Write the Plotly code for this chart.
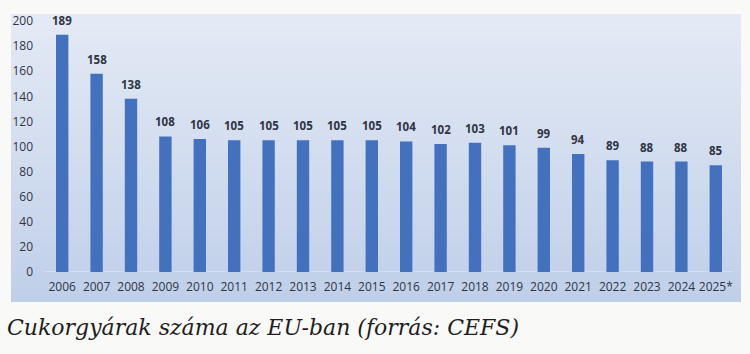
import plotly.graph_objects as go

years = ["2006", "2007", "2008", "2009", "2010", "2011", "2012", "2013", "2014", "2015",
         "2016", "2017", "2018", "2019", "2020", "2021", "2022", "2023", "2024", "2025*"]
factories = [189, 158, 138, 108, 106, 105, 105, 105, 105, 105,
             104, 102, 103, 101, 99, 94, 89, 88, 88, 85]
y_ticks = [0, 20, 40, 60, 80, 100, 120, 140, 160, 180, 200]
caption = "Cukorgyárak száma az EU-ban (forrás: CEFS)"

W, H = 750, 354
L, R, T, B = 45, 17, 17, 82
pw, ph = W - L - R, H - T - B


def px_x(x):
    return (x - L) / pw


def px_y(y):
    return (H - B - y) / ph


fig = go.Figure()
fig.add_trace(go.Bar(
    x=years, y=factories, width=0.36,
    marker=dict(color="#4471bd", line=dict(width=0)),
    hoverinfo="x+y",
))

# gradient panel background
shapes = []
n = 40
top_c = (0xe4, 0xea, 0xf5)
bot_c = (0xbf, 0xcf, 0xe9)
y_top, y_bot = 10, 302
for i in range(n):
    t = (i + 0.5) / n
    c = tuple(round(top_c[k] + (bot_c[k] - top_c[k]) * t) for k in range(3))
    ya = y_top + (y_bot - y_top) * i / n
    yb = y_top + (y_bot - y_top) * (i + 1) / n + 0.6
    shapes.append(dict(type="rect", xref="paper", yref="paper", layer="below",
                       x0=px_x(11), x1=px_x(741), y0=px_y(yb), y1=px_y(ya),
                       fillcolor="rgb(%d,%d,%d)" % c, line=dict(width=0)))
shapes.append(dict(type="line", xref="paper", yref="y", layer="below",
                   x0=0, x1=1, y0=0, y1=0, line=dict(color="#e6ecf7", width=1.2)))

annotations = [dict(x=i, y=v, xref="x", yref="y", text=str(v), showarrow=False,
                    yanchor="bottom", yshift=5,
                    font=dict(family="Open Sans", size=11.5, color="#2f3545", weight="bold"))
               for i, v in enumerate(factories)]
annotations.append(dict(text=caption, xref="paper", yref="paper",
                        x=px_x(5), y=px_y(328), xanchor="left", yanchor="middle",
                        showarrow=False,
                        font=dict(family="DejaVu Serif", size=22,
                                  color="#1e1e1e", style="italic")))

tf = dict(family="Open Sans", size=12, color="#2f3545")
fig.update_layout(
    width=W, height=H,
    margin=dict(l=L, r=R, t=T, b=B),
    paper_bgcolor="#f9f9f8",
    plot_bgcolor="rgba(0,0,0,0)",
    showlegend=False,
    shapes=shapes,
    annotations=annotations,
    xaxis=dict(type="category", range=[-0.5, 19.5], showgrid=False, zeroline=False,
               showline=False, ticks="", ticklabelstandoff=6, tickfont=tf),
    yaxis=dict(range=[0, 200], tickvals=y_ticks, showgrid=False, zeroline=False,
               showline=False, ticks="", ticklabelstandoff=11, tickfont=tf),
)

fig.write_html("out.html")
